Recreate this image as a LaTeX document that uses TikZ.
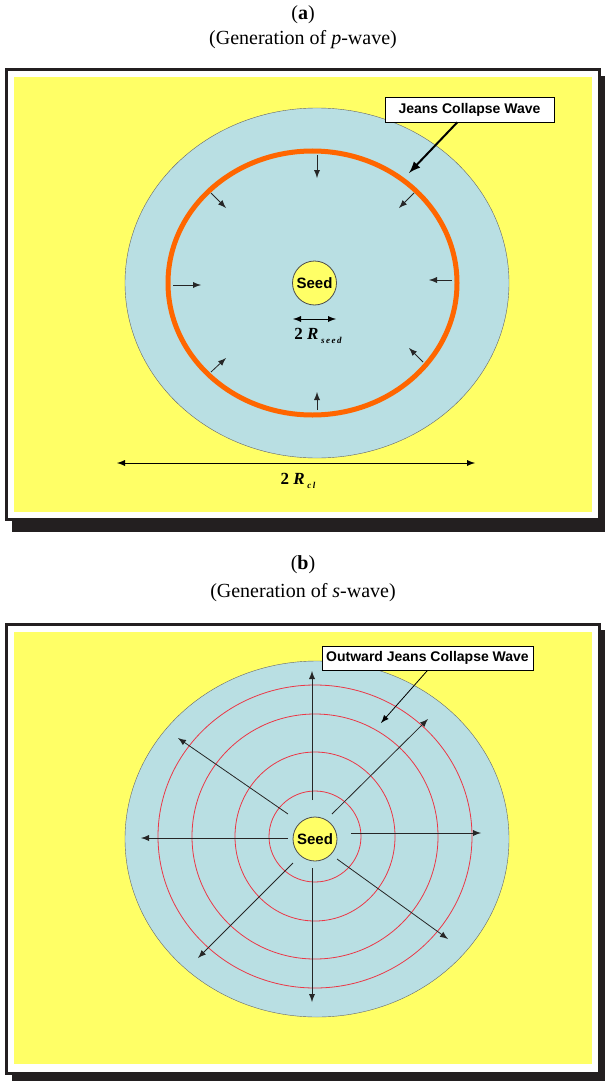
\documentclass[tikz,border=0pt]{standalone}
\usepackage{fontspec}
\setmainfont{Liberation Serif}
\setsansfont{Liberation Sans}
\usepackage{tikz}
\usetikzlibrary{
  calc,%
  shadows,%
  positioning
}
\tikzset{>=latex}
\definecolor{paleyellow}{RGB}{255,255,102}
\definecolor{cloudblue}{RGB}{185,223,227}
\definecolor{waveorange}{RGB}{255,102,0}
\definecolor{wavered}{RGB}{235,55,70}
\definecolor{framegray}{RGB}{35,31,32}
\tikzset{
  callout/.style={draw, fill=white, inner sep=0pt, font=\sffamily\bfseries\fontsize{7}{8}\selectfont,
    drop shadow={shadow xshift=0.6pt, shadow yshift=-0.6pt, opacity=1, fill=black}},
  seednode/.style={circle, draw=black!70, thin, fill=paleyellow, minimum size=22pt, inner sep=0pt,
    font=\sffamily\bfseries\fontsize{7.5}{8}\selectfont},
  radial/.style={->, thin, black!85},
  caption/.style={font=\fontsize{10}{12}\selectfont}
}
\newcommand{\sublabel}[1]{\raisebox{-0.6ex}{\fontsize{4.5}{5}\selectfont\bfseries\itshape #1}}

\begin{document}
\begin{tikzpicture}[x=0.5pt, y=-0.5pt]
  \useasboundingbox (0,0) rectangle (605,1081);
  % panel (a): frame
  \node[caption] (capa) at (303,15) {(\textbf{a})};
  \node[caption] (suba) at (303,40) {(Generation of \textit{p}-wave)};
  \fill[framegray] (12,76) rectangle (605,532);
  \draw[framegray, line width=1.5pt, fill=white] (6.5,69.5) rectangle (599.5,519.5);
  \fill[paleyellow] (14,77) rectangle (592,512);
  % the cloud and the collapse front
  \draw[fill=cloudblue, draw=black!60, very thin] (317,283) ellipse [x radius=192, y radius=175];
  \draw[waveorange, line width=2.5pt] (312.5,283) ellipse [x radius=144.5, y radius=132];
  \node[seednode] (seeda) at (314.5,283) {Seed};
  \foreach \sx/\sy/\ex/\ey in {317/155/317/178, 211/193/226/208, 414/193/399/208, 173/285/201/285,
      452/280/429/280, 211/372/226/358, 423/362/409/348, 317/410/317/392}
    \draw[radial] (\sx,\sy) -- (\ex,\ey);
  % sizes
  \coordinate (rseedl) at (293,319);
  \coordinate (rseedr) at (336,319);
  \draw[<->, thin] (rseedl) -- (rseedr);
  \node[font=\fontsize{8.5}{9}\selectfont] (rseed) at (318,336) {\textbf{2} \textbf{\textit{R}}\,\sublabel{s\,e\,e\,d}};
  \coordinate (rcll) at (117,463);
  \coordinate (rclr) at (475,463);
  \draw[<->, thin] (rcll) -- (rclr);
  \node[font=\fontsize{8.5}{9}\selectfont] (rcl) at (298,481) {\textbf{2} \textbf{\textit{R}}\,\sublabel{c\,l}};
  % callout
  \node[callout, minimum width=84.5pt, minimum height=12.5pt] (jcw) at (469.5,109.5) {Jeans Collapse Wave};
  \coordinate (jcwtip) at (409,173);
  \draw[->, line width=1pt] (jcw) -- (jcwtip);

  % panel (b): frame
  \node[caption] (capb) at (303,565) {(\textbf{b})};
  \node[caption] (subb) at (303,593) {(Generation of \textit{s}-wave)};
  \fill[framegray] (12,630) rectangle (605,1081);
  \draw[framegray, line width=1.5pt, fill=white] (6.5,624) rectangle (599.5,1073.5);
  \fill[paleyellow] (14,632) rectangle (592,1064);
  % the cloud and the outgoing fronts
  \draw[fill=cloudblue, draw=black!60, very thin] (317,839) ellipse [x radius=192, y radius=178];
  \foreach \rx/\ry in {46/45.5, 80/84.5, 123/122.5, 157/151.5}
    \draw[wavered, thin] (315,836.5) ellipse [x radius=\rx, y radius=\ry];
  \node[seednode] (seedb) at (315,839) {Seed};
  \foreach \sx/\sy/\ex/\ey in {312/800/312/671, 312/868/312/1002, 288/838/141/838, 351/833/481/833,
      288/814/178/738, 332/814/428/719, 293/863/198/958, 337/859/448/939}
    \draw[radial] (\sx,\sy) -- (\ex,\ey);
  % callout
  \node[callout, minimum width=105.5pt, minimum height=12pt] (ojcw) at (427.5,658) {Outward Jeans Collapse Wave};
  \coordinate (ojcwtip) at (381,723);
  \draw[->, thin] (ojcw.south) -- (ojcwtip);
\end{tikzpicture}
\end{document}
